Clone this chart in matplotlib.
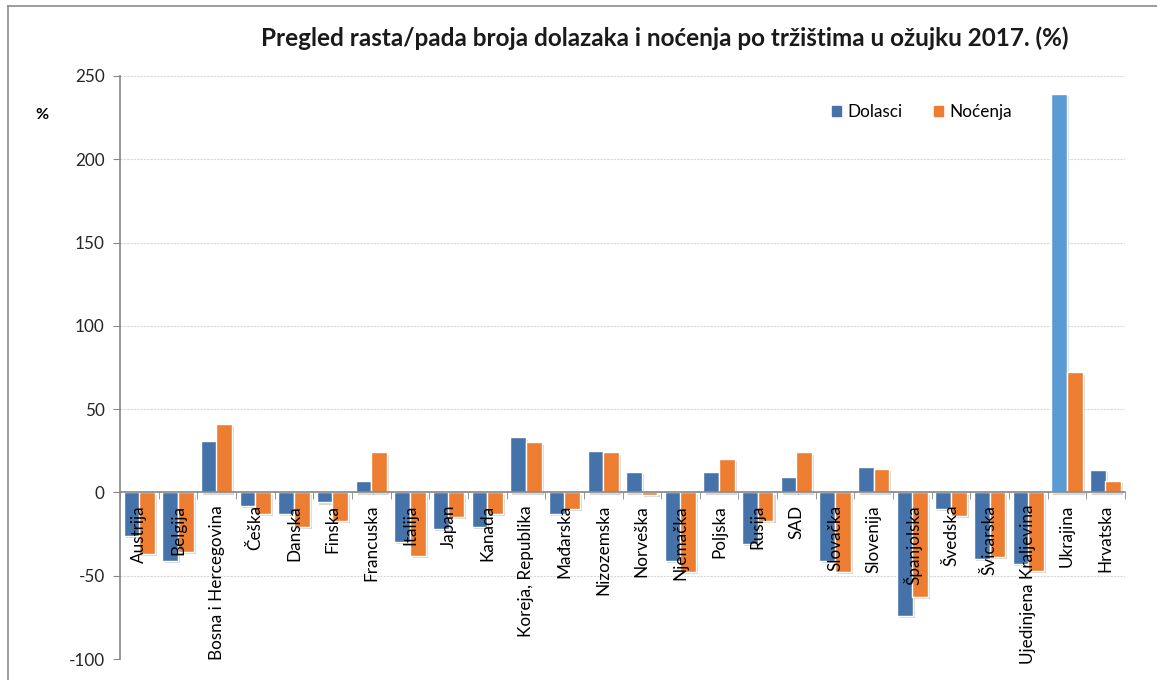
import matplotlib.pyplot as plt
import matplotlib.patheffects as pe
from matplotlib.lines import Line2D
from matplotlib.patches import Patch
import numpy as np

plt.rcParams['font.family'] = ['Lato', 'DejaVu Sans']
plt.rcParams['axes.unicode_minus'] = False

markets = ['Austrija', 'Belgija', 'Bosna i Hercegovina', 'Češka', 'Danska', 'Finska',
           'Francuska', 'Italija', 'Japan', 'Kanada', 'Koreja, Republika', 'Mađarska',
           'Nizozemska', 'Norveška', 'Njemačka', 'Poljska', 'Rusija', 'SAD', 'Slovačka',
           'Slovenija', 'Španjolska', 'Švedska', 'Švicarska', 'Ujedinjena Kraljevina',
           'Ukrajina', 'Hrvatska']
dolasci = [-26, -41, 31, -8, -13, -6, 7, -30, -22, -21, 33, -13, 25, 12.5, -41, 12,
           -31, 9, -41, 15, -74, -10, -40, -43, 239, 13.5]
nocenja = [-37, -36, 41, -13, -21, -17, 24, -38, -15, -13, 30, -10, 24, -1.5, -48, 20,
           -17, 24, -47.5, 14, -63, -14, -39, -47, 72, 7]

blue = '#4672AA'
blue_light = '#5B9BD5'
orange = '#ED7D31'

fig = plt.figure(figsize=(11.57, 6.80), dpi=100)
ax = fig.add_axes([120/1157, 1-659/680, (1125-120)/1157, (659-76)/680])

x = np.arange(len(markets))
w = 0.41
shadow = [pe.SimplePatchShadow(offset=(1.5, -1.5), shadow_rgbFace='#888888', alpha=0.35), pe.Normal()]
dcol = [blue_light if m == 'Ukrajina' else blue for m in markets]
b1 = ax.bar(x - 0.2, dolasci, w, color=dcol, edgecolor='white', linewidth=1.0, zorder=3)
b2 = ax.bar(x + 0.2, nocenja, w, color=orange, edgecolor='white', linewidth=1.0, zorder=3)
for b in list(b1) + list(b2):
    b.set_path_effects(shadow)

ax.set_xlim(-0.5, len(markets) - 0.5)
ax.set_ylim(-100, 250)
ax.set_yticks(np.arange(-100, 251, 50))
ax.yaxis.grid(True, color='#d9d9d9', linewidth=0.8, linestyle=(0, (2, 1)))
ax.set_axisbelow(True)
ax.xaxis.set_zorder(5)

for s in ['top', 'right']:
    ax.spines[s].set_visible(False)
ax.spines['left'].set_color('#868686')
ax.spines['left'].set_linewidth(1.2)
ax.spines['bottom'].set_position(('data', 0))
ax.spines['bottom'].set_color('#868686')
ax.spines['bottom'].set_linewidth(1.2)
ax.spines['bottom'].set_zorder(4)

ax.set_xticks(x)
ax.set_xticklabels(markets, rotation=90, fontsize=12.3, color='black')
ax.set_xticks(np.arange(-0.5, len(markets), 1), minor=True)
ax.tick_params(axis='x', which='major', length=0, pad=9)
ax.tick_params(axis='x', which='minor', length=5, color='#868686', direction='out')
ax.tick_params(axis='y', length=5, color='#868686', labelsize=12.3, pad=6, labelcolor='#262626')

fig.text(665/1157, 1-38/680, 'Pregled rasta/pada broja dolazaka i noćenja po tržištima u ožujku 2017. (%)',
         ha='center', va='center', fontsize=17.5, fontweight='bold', color='#1a1a1a')
fig.text(42/1157, 1-115/680, '%', ha='center', va='center', fontsize=11.5, fontweight='bold')

handles = [Patch(color=blue), Patch(color=orange)]
ax.legend(handles, ['Dolasci', 'Noćenja'], ncol=2, frameon=False, fontsize=12.3,
          loc='center', bbox_to_anchor=(922/1157, 1-112/680), bbox_transform=fig.transFigure,
          handlelength=0.55, handleheight=0.55, handletextpad=0.4, columnspacing=1.8)

fig.add_artist(Line2D([8/1157, 8/1157], [0, 1-6/680], color='#8c8c8c', linewidth=1.2, transform=fig.transFigure))
fig.add_artist(Line2D([8/1157, 1], [1-6/680, 1-6/680], color='#8c8c8c', linewidth=1.2, transform=fig.transFigure))

fig.savefig('out.png', dpi=100)
